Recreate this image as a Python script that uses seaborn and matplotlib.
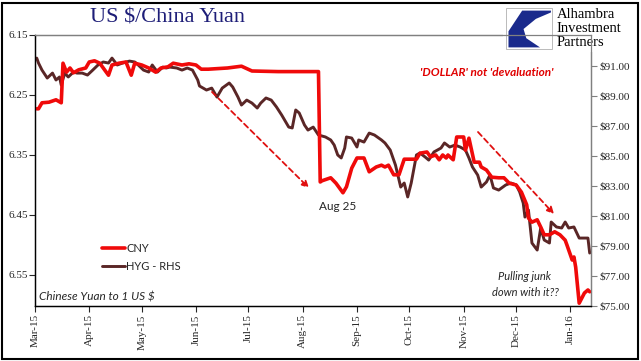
import numpy as np
import pandas as pd
import matplotlib.pyplot as plt
import matplotlib.dates as mdates
from matplotlib.patches import Rectangle, Polygon, FancyArrowPatch
import seaborn as sns

#---------Data-----------
cny_dates = ["2015-03-02", "2015-03-03", "2015-03-05", "2015-03-09", "2015-03-13", "2015-03-16",
             "2015-03-17", "2015-03-19", "2015-03-21", "2015-03-23", "2015-03-26", "2015-03-30",
             "2015-04-01", "2015-04-04", "2015-04-07", "2015-04-12", "2015-04-14", "2015-04-18",
             "2015-04-22", "2015-04-25", "2015-04-27", "2015-05-01", "2015-05-05", "2015-05-09",
             "2015-05-12", "2015-05-16", "2015-05-19", "2015-05-24", "2015-05-28", "2015-06-01",
             "2015-06-04", "2015-06-08", "2015-06-19", "2015-06-27", "2015-07-03", "2015-07-18",
             "2015-08-10", "2015-08-11", "2015-08-12", "2015-08-17", "2015-08-20", "2015-08-24",
             "2015-08-26", "2015-08-29", "2015-09-01", "2015-09-05", "2015-09-08", "2015-09-12",
             "2015-09-15", "2015-09-17", "2015-09-19", "2015-09-22", "2015-09-25", "2015-09-28",
             "2015-10-05", "2015-10-07", "2015-10-11", "2015-10-13", "2015-10-16", "2015-10-18",
             "2015-10-20", "2015-10-22", "2015-10-23", "2015-10-26", "2015-10-28", "2015-11-01",
             "2015-11-02", "2015-11-04", "2015-11-07", "2015-11-10", "2015-11-11", "2015-11-14",
             "2015-11-17", "2015-11-21", "2015-11-24", "2015-11-27", "2015-12-01", "2015-12-04",
             "2015-12-07", "2015-12-08", "2015-12-10", "2015-12-13", "2015-12-15", "2015-12-17",
             "2015-12-20", "2015-12-23", "2015-12-26", "2015-12-29", "2015-12-30", "2016-01-02",
             "2016-01-03", "2016-01-04", "2016-01-06", "2016-01-09", "2016-01-11", "2016-01-12"]
cny_values = [6.273, 6.273, 6.263, 6.262, 6.258, 6.263,
              6.197, 6.212, 6.205, 6.213, 6.208, 6.205,
              6.195, 6.193, 6.197, 6.217, 6.200, 6.197,
              6.195, 6.217, 6.197, 6.200, 6.205, 6.212,
              6.205, 6.203, 6.197, 6.200, 6.198, 6.200,
              6.207, 6.207, 6.205, 6.202, 6.210, 6.211,
              6.211, 6.395, 6.393, 6.388, 6.397, 6.413,
              6.403, 6.372, 6.355, 6.355, 6.378, 6.370,
              6.367, 6.370, 6.367, 6.383, 6.383, 6.357,
              6.357, 6.347, 6.345, 6.353, 6.350, 6.358,
              6.350, 6.355, 6.350, 6.358, 6.320, 6.320,
              6.342, 6.322, 6.362, 6.362, 6.370, 6.375,
              6.387, 6.388, 6.388, 6.397, 6.400, 6.412,
              6.433, 6.455, 6.462, 6.458, 6.470, 6.483,
              6.483, 6.478, 6.483, 6.492, 6.500, 6.525,
              6.520, 6.537, 6.597, 6.580, 6.575, 6.578]

hyg_dates = ["2015-03-02", "2015-03-03", "2015-03-05", "2015-03-08", "2015-03-11", "2015-03-13",
             "2015-03-15", "2015-03-16", "2015-03-18", "2015-03-20", "2015-03-23", "2015-03-25",
             "2015-03-28", "2015-03-31", "2015-04-03", "2015-04-06", "2015-04-09", "2015-04-12",
             "2015-04-14", "2015-04-17", "2015-04-20", "2015-04-24", "2015-04-27", "2015-04-29",
             "2015-05-02", "2015-05-05", "2015-05-07", "2015-05-10", "2015-05-13", "2015-05-15",
             "2015-05-17", "2015-05-21", "2015-05-24", "2015-05-27", "2015-05-30", "2015-06-02",
             "2015-06-03", "2015-06-07", "2015-06-10", "2015-06-13", "2015-06-16", "2015-06-20",
             "2015-06-22", "2015-06-25", "2015-06-27", "2015-06-30", "2015-07-03", "2015-07-06",
             "2015-07-08", "2015-07-11", "2015-07-14", "2015-07-17", "2015-07-20", "2015-07-24",
             "2015-07-26", "2015-07-28", "2015-07-30", "2015-08-02", "2015-08-04", "2015-08-07",
             "2015-08-10", "2015-08-14", "2015-08-17", "2015-08-19", "2015-08-21", "2015-08-23",
             "2015-08-25", "2015-08-26", "2015-08-29", "2015-09-01", "2015-09-02", "2015-09-05",
             "2015-09-08", "2015-09-11", "2015-09-15", "2015-09-17", "2015-09-20", "2015-09-23",
             "2015-09-26", "2015-09-28", "2015-09-30", "2015-10-02", "2015-10-05", "2015-10-07",
             "2015-10-10", "2015-10-12", "2015-10-15", "2015-10-19", "2015-10-21", "2015-10-24",
             "2015-10-27", "2015-10-30", "2015-11-02", "2015-11-04", "2015-11-06", "2015-11-09",
             "2015-11-11", "2015-11-14", "2015-11-16", "2015-11-18", "2015-11-21", "2015-11-25",
             "2015-11-28", "2015-12-01", "2015-12-03", "2015-12-05", "2015-12-06", "2015-12-08",
             "2015-12-10", "2015-12-13", "2015-12-15", "2015-12-17", "2015-12-20", "2015-12-21",
             "2015-12-24", "2015-12-27", "2015-12-29", "2015-12-31", "2016-01-03", "2016-01-06",
             "2016-01-09", "2016-01-11", "2016-01-12"]
hyg_values = [91.53, 91.20, 90.73, 90.20, 90.53, 90.07,
              90.27, 89.73, 90.53, 90.27, 90.60, 90.53,
              90.53, 90.40, 90.73, 91.07, 91.27, 91.20,
              91.53, 91.07, 91.20, 91.33, 91.27, 91.07,
              90.73, 90.60, 91.07, 90.60, 90.93, 90.87,
              90.93, 90.87, 90.73, 90.87, 90.73, 90.07,
              89.67, 89.40, 89.53, 88.93, 89.53, 89.87,
              89.60, 88.93, 88.40, 88.73, 88.53, 88.20,
              88.53, 88.87, 88.73, 88.27, 87.73, 86.93,
              86.87, 88.07, 87.87, 87.07, 86.73, 86.93,
              86.40, 86.27, 86.07, 85.73, 85.07, 84.87,
              85.53, 86.27, 86.20, 85.60, 86.07, 85.93,
              86.53, 86.40, 86.07, 85.87, 85.40, 84.40,
              82.93, 83.20, 82.27, 83.20, 85.07, 85.20,
              84.93, 84.73, 85.27, 85.53, 85.87, 85.60,
              85.73, 85.60, 85.40, 84.87, 84.27, 83.73,
              82.93, 83.27, 83.73, 82.87, 82.73, 83.07,
              83.20, 83.07, 82.60, 81.87, 80.93, 81.40,
              79.20, 78.73, 80.20, 79.40, 79.20, 80.60,
              80.27, 80.20, 80.60, 80.20, 80.27, 79.53,
              79.53, 79.53, 78.53]

left_ticks = [6.15, 6.25, 6.35, 6.45, 6.55]
right_ticks = [75, 77, 79, 81, 83, 85, 87, 89, 91]

cny = pd.DataFrame({"date": pd.to_datetime(cny_dates), "value": cny_values})
hyg = pd.DataFrame({"date": pd.to_datetime(hyg_dates), "value": hyg_values})

#---------Style-----------
sns.set_style("white")
plt.rcParams["font.family"] = ["Liberation Serif", "DejaVu Serif"]

red = "#F00A0A"
brown = "#5A2626"
sans = ["Lato", "DejaVu Sans"]

fig = plt.figure(figsize=(6.41, 3.61), dpi=100)
ax = fig.add_axes([35/641, 1-306/361, (591-35)/641, (306-35)/361])
ax2 = ax.twinx()

sns.lineplot(data=cny, x="date", y="value", ax=ax, color=red, linewidth=2.6, label="CNY", legend=False)
sns.lineplot(data=hyg, x="date", y="value", ax=ax2, color=brown, linewidth=2.1, label="HYG - RHS", legend=False)

ax.set_zorder(ax2.get_zorder() + 1)
ax.patch.set_visible(False)

ax.set_xlim(pd.Timestamp("2015-03-01"), pd.Timestamp("2016-01-12 18:00"))
ax.set_ylim(6.6017, 6.15)
ax2.set_ylim(75, 93.07)

ax.set_yticks(left_ticks)
ax.set_yticklabels([f"{t:.2f}" for t in left_ticks])
ax2.set_yticks(right_ticks)
ax2.set_yticklabels([f"${t:.2f}" for t in right_ticks])

ax.xaxis.set_major_locator(mdates.MonthLocator())
ax.xaxis.set_major_formatter(mdates.DateFormatter("%b-%y"))
for lab in ax.get_xticklabels():
    lab.set_rotation(90)

ax.set_xlabel("")
ax.set_ylabel("")
ax2.set_ylabel("")

ax.tick_params(axis="x", labelsize=8, length=4, width=0.8, direction="out", bottom=True, pad=2)
ax.tick_params(axis="y", labelsize=8, length=4, width=0.8, direction="out", left=True, pad=1)
ax2.tick_params(axis="y", labelsize=8, length=4, width=0.8, direction="out", right=True, color="#808080", pad=2)

for a in (ax, ax2):
    a.spines["left"].set_color("black")
    a.spines["bottom"].set_color("black")
    a.spines["top"].set_color("#808080")
    a.spines["right"].set_color("#808080")
    for s in a.spines.values():
        s.set_linewidth(0.9)

#---------Legend-----------
h1, l1 = ax.get_legend_handles_labels()
h2, l2 = ax2.get_legend_handles_labels()
fig.legend(h1 + h2, l1 + l2, loc="upper left", bbox_to_anchor=(92/641, 1-233/361),
           frameon=False, handlelength=2.1, handletextpad=0.1, labelspacing=0.6,
           prop={"family": sans, "size": 8})

#---------Annotations-----------
fig.text(168/641, 1-18/361, "US $/China Yuan", ha="center", va="center",
         fontsize=16, color="#1E1E78")
fig.text(487/641, 1-73/361, "'DOLLAR' not 'devaluation'", ha="center", va="center",
         fontsize=8.5, color="#E00000", style="italic", weight="bold", family=sans)
fig.text(338/641, 1-206/361, "Aug 25", ha="center", va="center", fontsize=8.5, family=sans)
fig.text(525/641, 1-276/361, "Pulling junk", ha="center", va="center", fontsize=8,
         style="italic", family=sans)
fig.text(525/641, 1-292/361, "down with it??", ha="center", va="center", fontsize=8,
         style="italic", family=sans)
fig.text(39/641, 1-297/361, "Chinese Yuan to 1 US $", ha="left", va="center", fontsize=8.5,
         style="italic", family=sans)

arrow = dict(arrowstyle="-|>", color="#E01010", linestyle=(0, (3, 2)), linewidth=1.3,
             mutation_scale=10, shrinkA=0, shrinkB=0)
fig.add_artist(FancyArrowPatch((212/641, 1-92/361), (309/641, 1-188/361),
                               transform=fig.transFigure, **arrow))
fig.add_artist(FancyArrowPatch((478/641, 1-132/361), (554/641, 1-214/361),
                               transform=fig.transFigure, **arrow))

#---------Logo-----------
logo = fig.add_axes([503/641, 1-52/361, 137/641, 46/361])
logo.set_xlim(0, 1)
logo.set_ylim(0, 1)
logo.axis("off")
logo.add_patch(Rectangle((0, 0), 1, 1, facecolor="white", edgecolor="none"))
logo.add_patch(Rectangle((0.02, 0.06), 0.34, 0.9, facecolor="white", edgecolor="#B0B0B0", linewidth=0.6))
logo.add_patch(Polygon([(0.14, 0.9), (0.35, 0.9), (0.35, 0.86), (0.24, 0.72), (0.15, 0.50),
                        (0.17, 0.30), (0.27, 0.10), (0.04, 0.10), (0.04, 0.45)],
                       closed=True, facecolor="#1A2A8C", edgecolor="none"))
for i, word in enumerate(["Alhambra", "Investment", "Partners"]):
    logo.text(0.39, 0.82 - i*0.31, word, ha="left", va="center", fontsize=10.5, color="black")

#---------Frame-----------
fig.add_artist(Rectangle((2/641, 2/361), 636/641, 356/361, transform=fig.transFigure,
                         fill=False, edgecolor="black", linewidth=1.5))

fig.savefig("out.png", dpi=100)
